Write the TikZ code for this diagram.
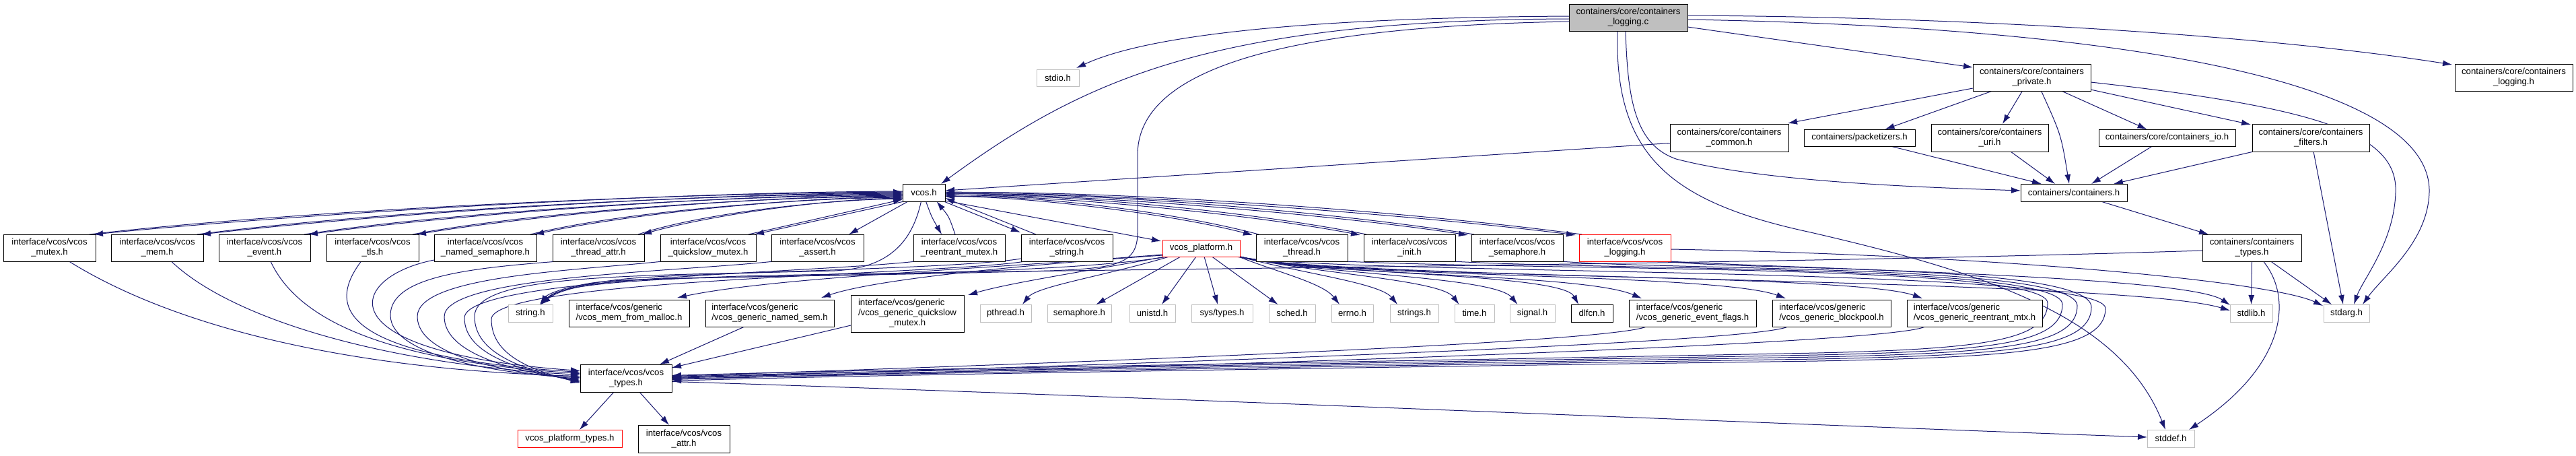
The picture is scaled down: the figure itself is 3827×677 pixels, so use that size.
\documentclass[tikz,border=0pt]{standalone}
\usepackage{fontspec}
\setmainfont{Liberation Sans}
\usetikzlibrary{arrows.meta,calc,backgrounds}
\definecolor{edgec}{HTML}{191970}
\definecolor{extc}{HTML}{BFBFBF}
\definecolor{redc}{HTML}{FF0000}
\begin{document}
\begin{tikzpicture}[x=1pt,y=-1pt,
 nd/.style={draw=black,fill=white,line width=0.9pt,inner sep=0pt,outer sep=0pt,align=center,font=\fontsize{13.2}{15}\selectfont},
 ext/.style={nd,draw=extc},
 rd/.style={nd,draw=redc},
 rt/.style={nd,fill=extc},
 gen/.style={nd,align=left},
 sz/.style 2 args={minimum width=#1pt,minimum height=#2pt},
 e/.style={draw=edgec,line width=1pt,-{Latex[length=14pt,width=9pt]}},
]
\useasboundingbox (0,0) rectangle (3827,677);
% ---------------- nodes
\node[rt,sz={176}{40}] (root) at (2419,26) {containers/core/containers\\\_logging.c};
\node[ext,sz={63}{25}] (stdio) at (1571.5,115.5) {stdio.h};
\node[nd,sz={175}{40}] (private) at (3018.5,115) {containers/core/containers\\\_private.h};
\node[nd,sz={175}{40}] (clog) at (3734.5,115) {containers/core/containers\\\_logging.h};
\node[nd,sz={176}{41}] (common) at (2569,204.5) {containers/core/containers\\\_common.h};
\node[nd,sz={165}{25}] (packet) at (2762.5,204.5) {containers/packetizers.h};
\node[nd,sz={174}{41}] (uri) at (2956,204.5) {containers/core/containers\\\_uri.h};
\node[nd,sz={203}{25}] (cio) at (3219.5,204.5) {containers/core/containers\_io.h};
\node[nd,sz={174}{41}] (filters) at (3433,204.5) {containers/core/containers\\\_filters.h};
\node[nd,sz={63}{26}] (vcos) at (1372.5,286) {vcos.h};
\node[nd,sz={158}{26}] (cont) at (3081,286) {containers/containers.h};
\node[nd,sz={137}{40}] (mutex) at (73.5,368) {interface/vcos/vcos\\\_mutex.h};
\node[nd,sz={137}{40}] (mem) at (233.5,368) {interface/vcos/vcos\\\_mem.h};
\node[nd,sz={136}{40}] (event) at (393,368) {interface/vcos/vcos\\\_event.h};
\node[nd,sz={137}{40}] (tls) at (553.5,368) {interface/vcos/vcos\\\_tls.h};
\node[nd,sz={152}{40}] (nsem) at (721,368) {interface/vcos/vcos\\\_named\_semaphore.h};
\node[nd,sz={136}{40}] (tattr) at (889,368) {interface/vcos/vcos\\\_thread\_attr.h};
\node[nd,sz={142}{40}] (qsm) at (1052,368) {interface/vcos/vcos\\\_quickslow\_mutex.h};
\node[nd,sz={137}{40}] (assert) at (1214.5,368) {interface/vcos/vcos\\\_assert.h};
\node[nd,sz={136}{40}] (rmutex) at (1425,368) {interface/vcos/vcos\\\_reentrant\_mutex.h};
\node[nd,sz={136}{40}] (vstring) at (1585,368) {interface/vcos/vcos\\\_string.h};
\node[rd,sz={115}{25}] (platform) at (1784.5,368.5) {vcos\_platform.h};
\node[nd,sz={136}{40}] (thread) at (1934,368) {interface/vcos/vcos\\\_thread.h};
\node[nd,sz={136}{40}] (init) at (2094,368) {interface/vcos/vcos\\\_init.h};
\node[nd,sz={136}{40}] (vsem) at (2254,368) {interface/vcos/vcos\\\_semaphore.h};
\node[rd,sz={136}{40}] (vlog) at (2414,368) {interface/vcos/vcos\\\_logging.h};
\node[nd,sz={147}{40}] (ctypes) at (3345.5,368) {containers/containers\\\_types.h};
\node[ext,sz={66}{26}] (string) at (788,465) {string.h};
\node[gen,sz={179}{40}] (memmalloc) at (934.5,465) {interface/vcos/generic\\/vcos\_mem\_from\_malloc.h};
\node[gen,sz={191}{40}] (gnsem) at (1143.5,465) {interface/vcos/generic\\/vcos\_generic\_named\_sem.h};
\node[gen,sz={168}{55}] (gqsm) at (1348,465.5) {interface/vcos/generic\\/vcos\_generic\_quickslow\\\hspace*{46pt}\_mutex.h};
\node[ext,sz={76}{26}] (pthread) at (1494,465) {pthread.h};
\node[ext,sz={95}{26}] (semh) at (1603.5,465) {semaphore.h};
\node[ext,sz={68}{26}] (unistd) at (1712,465) {unistd.h};
\node[ext,sz={91}{26}] (systypes) at (1815.5,465) {sys/types.h};
\node[ext,sz={69}{26}] (sched) at (1919.5,465) {sched.h};
\node[ext,sz={62}{26}] (errno) at (2009,465) {errno.h};
\node[ext,sz={72}{26}] (strings) at (2101,465) {strings.h};
\node[ext,sz={59}{26}] (time) at (2190.5,465) {time.h};
\node[ext,sz={67}{26}] (signal) at (2276.5,465) {signal.h};
\node[nd,sz={62}{26}] (dlfcn) at (2365,465) {dlfcn.h};
\node[gen,sz={189}{40}] (gevent) at (2514.5,465) {interface/vcos/generic\\/vcos\_generic\_event\_flags.h};
\node[gen,sz={176}{40}] (gblock) at (2721,465) {interface/vcos/generic\\/vcos\_generic\_blockpool.h};
\node[gen,sz={201}{40}] (grmtx) at (2933.5,465) {interface/vcos/generic\\/vcos\_generic\_reentrant\_mtx.h};
\node[ext,sz={63}{26}] (stdlib) at (3344.5,465) {stdlib.h};
\node[ext,sz={68}{26}] (stdarg) at (3486,465) {stdarg.h};
\node[nd,sz={136}{41}] (vtypes) at (930,561.5) {interface/vcos/vcos\\\_types.h};
\node[rd,sz={155}{26}] (ptypes) at (846.5,651) {vcos\_platform\_types.h};
\node[nd,sz={136}{41}] (attr) at (1016,651.5) {interface/vcos/vcos\\\_attr.h};
\node[ext,sz={70}{26}] (stddef) at (3225,651) {stddef.h};
% ---------------- edges
\begin{pgfonlayer}{background}
\fill[white] (0,0) rectangle (3827,677);
% root
\draw[e] ($(root.west)+(0,-2)$) .. controls (2000,26) and (1720,45) .. ($(stdio.north east)+(-4,-2)$);
\draw[e] ($(root.west)+(0,2)$) .. controls (1800,30) and (1610,118) .. ($(vcos.north east)+(-6,0)$);
\draw[e] ($(root.west)+(0,6)$) .. controls (1880,40) and (1690,110) .. (1690,230) -- (1690,345) .. controls (1690,392) and (1660,398) .. (1560,402) .. controls (1200,412) and (950,410) .. (880,420) .. controls (830,428) and (812,438) .. ($(string.north)+(14,0)$);
\draw[e] ($(root.east)+(0,14)$) -- ($(private.north west)+(0,5)$);
\draw[e] ($(root.east)+(0,-3)$) .. controls (2900,25) and (3350,50) .. ($(clog.north west)+(-4,1)$);
\draw[e] ($(root.east)+(0,3)$) .. controls (3150,40) and (3612,120) .. (3609,285) .. controls (3607,360) and (3540,410) .. ($(stdarg.north)+(24,0)$);
\draw[e] ($(root.south)+(-4,0)$) .. controls (2418,150) and (2430,215) .. (2490,236) .. controls (2620,270) and (2850,278) .. ($(cont.west)+(0,-3)$);
\draw[e] ($(root.south)+(-16,0)$) .. controls (2398,230) and (2480,300) .. (2690,345) .. controls (2950,405) and (3150,470) .. ($(stddef.north)+(-8,0)$);
% private
\draw[e] ($(private.south west)+(0,-4)$) -- ($(common.north east)+(-1,-1)$);
\draw[e] ($(private.south west)+(29,0)$) -- ($(packet.north)+(38,0)$);
\draw[e] ($(private.south)+(-14,0)$) -- ($(uri.north)+(19,0)$);
\draw[e] ($(private.south)+(14,0)$) .. controls (3062,200) .. ($(cont.north)+(-7,0)$);
\draw[e] ($(private.south)+(44,0)$) -- ($(cio.north)+(-30,0)$);
\draw[e] ($(private.south east)+(0,-2)$) -- ($(filters.north west)+(-2,1)$);
\draw[e] ($(private.east)+(0,7)$) .. controls (3450,160) and (3562,200) .. (3559,285) .. controls (3557,360) and (3510,415) .. ($(stdarg.north)+(11,0)$);
% containers
\draw[e] ($(common.west)+(0,8)$) -- ($(vcos.east)+(0,-3)$);
\draw[e] ($(packet.south)+(46,0)$) -- ($(cont.north)+(-48,0)$);
\draw[e] ($(uri.south)+(31,0)$) -- ($(cont.north)+(-28,0)$);
\draw[e] ($(cio.south)+(-22,0)$) -- ($(cont.north)+(26,0)$);
\draw[e] ($(filters.south west)+(2,0)$) -- ($(cont.north)+(59,0)$);
\draw[e] ($(filters.south)+(4,0)$) -- ($(stdarg.north)+(-5,0)$);
\draw[e] ($(cont.south)+(40,0)$) -- ($(ctypes.north west)+(9,0)$);
\draw[e] (ctypes.south) -- (stdlib.north);
\draw[e] ($(ctypes.south)+(28,0)$) -- ($(stdarg.north)+(-22,0)$);
\draw[e] ($(ctypes.south)+(17,0)$) .. controls (3405,440) and (3400,540) .. ($(stddef.north)+(27,0)$);
\draw[e] ($(ctypes.west)+(0,4)$) .. controls (2600,394) and (1500,400) .. (1100,410) .. controls (900,417) and (830,425) .. ($(string.north)+(15,0)$);
% vcos <-> left group
\draw[e] ($(vcos.west)+(0,-2)$) .. controls (981,285) and (442,318) .. ($(mutex.north east)+(-3,0)$);
\draw[e] ($(mutex.north east)+(-9,0)$) .. controls (433,313) and (981,287) .. ($(vcos.west)+(0,-1)$);
\draw[e] (vcos.west) .. controls (1029,287) and (562,318) .. ($(mem.north east)+(-3,0)$);
\draw[e] ($(mem.north east)+(-9,0)$) .. controls (553,314) and (1029,289) .. ($(vcos.west)+(0,1)$);
\draw[e] ($(vcos.west)+(0,2)$) .. controls (1077,289) and (681,318) .. ($(event.north east)+(-3,0)$);
\draw[e] ($(event.north east)+(-9,0)$) .. controls (672,314) and (1077,291) .. ($(vcos.west)+(0,3)$);
\draw[e] ($(vcos.west)+(0,4)$) .. controls (1125,291) and (802,318) .. ($(tls.north east)+(-3,0)$);
\draw[e] ($(tls.north east)+(-9,0)$) .. controls (793,314) and (1125,293) .. ($(vcos.west)+(0,5)$);
\draw[e] ($(vcos.west)+(0,6)$) .. controls (1178,293) and (933,318) .. ($(nsem.north east)+(-3,0)$);
\draw[e] ($(nsem.north east)+(-9,0)$) .. controls (924,314) and (1178,295) .. ($(vcos.west)+(0,7)$);
\draw[e] ($(vcos.west)+(0,8)$) .. controls (1226,295) and (1053,320) .. ($(tattr.north east)+(-3,0)$);
\draw[e] ($(tattr.north east)+(-9,0)$) .. controls (1044,316) and (1226,297) .. ($(vcos.west)+(0,9)$);
\draw[e] ($(vcos.south west)+(2,0)$) -- ($(qsm.north east)+(-2,0)$);
\draw[e] ($(qsm.north east)+(-11,0)$) -- ($(vcos.west)+(0,10)$);
\draw[e] ($(vcos.south west)+(8,0)$) -- ($(assert.north east)+(-22,0)$);
\draw[e] ($(vcos.south)+(3,0)$) .. controls (1384,322) .. ($(rmutex.north)+(-26,0)$);
\draw[e] ($(rmutex.north)+(-6,0)$) .. controls (1410,322) .. ($(vcos.south)+(19,0)$);
\draw[e] ($(vcos.south east)+(-2,0)$) -- ($(vstring.north west)+(-1,-3)$);
\draw[e] ($(vstring.north west)+(22,0)$) -- ($(vcos.east)+(0,8)$);
\draw[e] ($(vcos.south east)+(0,-1)$) -- ($(platform.north west)+(-2,2)$);
% vcos <-> right group
\draw[e] ($(vcos.east)+(0,5)$) .. controls (1543,292) and (1750,320) .. ($(thread.north west)+(-5,1)$);
\draw[e] ($(thread.north west)+(4,0)$) .. controls (1750,316) and (1543,289) .. ($(vcos.east)+(0,6)$);
\draw[e] ($(vcos.east)+(0,3)$) .. controls (1591,291) and (1870,320) .. ($(init.north west)+(-5,1)$);
\draw[e] ($(init.north west)+(4,0)$) .. controls (1870,316) and (1591,287) .. ($(vcos.east)+(0,4)$);
\draw[e] ($(vcos.east)+(0,1)$) .. controls (1639,289) and (1990,320) .. ($(vsem.north west)+(-5,1)$);
\draw[e] ($(vsem.north west)+(4,0)$) .. controls (1990,316) and (1639,285) .. ($(vcos.east)+(0,2)$);
\draw[e] ($(vcos.east)+(0,-1)$) .. controls (1687,287) and (2110,320) .. ($(vlog.north west)+(-5,1)$);
\draw[e] ($(vlog.north west)+(4,0)$) .. controls (2110,316) and (1687,283) .. (vcos.east);
% direct to vcos_types
\draw[e] ($(mutex.south)+(29,0)$) .. controls (250,480) and (500,548) .. ($(vtypes.west)+(0,-3)$);
\draw[e] ($(mem.south)+(21,0)$) .. controls (340,470) and (560,540) .. ($(vtypes.west)+(0,-5)$);
\draw[e] ($(event.south)+(9,0)$) .. controls (440,470) and (560,535) .. ($(vtypes.west)+(0,-7)$);
\draw[e] ($(tls.south)+(-17,0)$) .. controls (490,450) and (490,528) .. ($(vtypes.west)+(0,-9)$);
\draw[e] ($(nsem.south west)+(0,-2)$) .. controls (520,410) and (470,522) .. ($(vtypes.west)+(0,-11)$);
% left loops to vcos_types
\draw[e] ($(tattr.south west)+(8,0)$) .. controls (700,398) and (580,410) .. (580,468) .. controls (580,530) and (750,556) .. ($(vtypes.west)+(0,-1)$);
\draw[e] ($(qsm.south west)+(4,0)$) .. controls (850,402) and (620,410) .. (620,470) .. controls (620,530) and (760,554) .. ($(vtypes.west)+(0,1)$);
\draw[e] ($(assert.south west)+(4,0)$) .. controls (1000,404) and (660,410) .. (660,470) .. controls (660,527) and (770,552) .. ($(vtypes.west)+(0,3)$);
\draw[e] ($(rmutex.south west)+(4,0)$) .. controls (1200,406) and (690,412) .. (690,472) .. controls (690,527) and (775,550) .. ($(vtypes.west)+(0,5)$);
\draw[e] ($(vstring.south west)+(6,0)$) .. controls (1400,408) and (730,414) .. (730,474) .. controls (730,526) and (785,548) .. ($(vtypes.west)+(0,7)$);
\draw[e] ($(vcos.south)+(-4,0)$) .. controls (1355,360) and (1320,398) .. (1240,402) .. controls (950,410) and (705,405) .. (705,470) .. controls (705,526) and (780,549) .. ($(vtypes.west)+(0,6)$);
% right loops to vcos_types
\draw[e] ($(thread.south east)+(-4,0)$) .. controls (2300,402) and (3042,392) .. (3042,450) .. controls (3042,505) and (2950,518) .. (2700,524) .. controls (2000,538) and (1300,548) .. ($(vtypes.east)+(0,-4)$);
\draw[e] ($(init.south east)+(-4,0)$) .. controls (2400,402) and (3064,392) .. (3064,452) .. controls (3064,510) and (2960,521) .. (2700,527) .. controls (2000,540) and (1300,550) .. ($(vtypes.east)+(0,-2)$);
\draw[e] ($(vsem.south east)+(-4,0)$) .. controls (2500,402) and (3086,392) .. (3086,454) .. controls (3086,514) and (2970,524) .. (2700,530) .. controls (2000,542) and (1300,552) .. (vtypes.east);
\draw[e] ($(vlog.south east)+(-8,0)$) .. controls (2600,402) and (3107,392) .. (3107,456) .. controls (3107,518) and (2980,527) .. (2700,533) .. controls (2000,544) and (1300,554) .. ($(vtypes.east)+(0,2)$);
\draw[e] ($(platform.south east)+(-6,0)$) .. controls (2000,410) and (3128,394) .. (3128,458) .. controls (3128,522) and (2990,530) .. (2700,536) .. controls (2000,546) and (1300,556) .. ($(vtypes.east)+(0,4)$);
% generic to vcos_types
\draw[e] ($(gevent.south west)+(26,0)$) .. controls (2380,512) and (1400,545) .. ($(vtypes.east)+(0,-3)$);
\draw[e] ($(gblock.south west)+(23,0)$) .. controls (2600,512) and (1500,547) .. ($(vtypes.east)+(0,-1)$);
\draw[e] ($(grmtx.south west)+(27,0)$) .. controls (2800,514) and (1600,549) .. ($(vtypes.east)+(0,1)$);
\draw[e] ($(gnsem.south west)+(58,0)$) -- ($(vtypes.north east)+(-18,0)$);
\draw[e] ($(gqsm.south west)+(0,-10)$) -- ($(vtypes.north east)+(0,5)$);
% vcos_types out
\draw[e] ($(vtypes.south)+(-18,0)$) -- ($(ptypes.north)+(14.5,0)$);
\draw[e] ($(vtypes.south)+(20,0)$) -- ($(attr.north)+(-22,0)$);
\draw[e] ($(vtypes.east)+(0,5)$) .. controls (1600,585) and (2600,628) .. ($(stddef.west)+(0,-2)$);
% platform out
\draw[e] ($(platform.south west)+(10,0)$) .. controls (1640,410) and (1540,425) .. ($(pthread.north)+(25,0)$);
\draw[e] ($(platform.south west)+(27,0)$) -- ($(semh.north)+(25,0)$);
\draw[e] ($(platform.south)+(-7.5,0)$) -- ($(unistd.north)+(14,0)$);
\draw[e] ($(platform.south)+(4.5,0)$) -- ($(systypes.north)+(-6.5,0)$);
\draw[e] ($(platform.south)+(16,0)$) -- ($(sched.north)+(-21,0)$);
\draw[e] ($(platform.south east)+(-2,0)$) .. controls (1900,405) and (1965,420) .. ($(errno.north)+(-19,0)$);
\draw[e] ($(platform.south east)+(-1,0)$) .. controls (1930,405) and (2050,420) .. ($(strings.north)+(-25,0)$);
\draw[e] (platform.south east) .. controls (1950,406) and (2140,415) .. ($(time.north)+(-23,0)$);
\draw[e] (platform.south east) .. controls (1950,407) and (2220,410) .. ($(signal.north)+(-22,0)$);
\draw[e] (platform.south east) .. controls (1950,408) and (2320,405) .. ($(dlfcn.north)+(-20,0)$);
\draw[e] (platform.south east) .. controls (1950,410) and (2350,405) .. ($(gevent.north west)+(19,-2)$);
\draw[e] (platform.south east) .. controls (1960,412) and (2550,405) .. ($(gblock.north west)+(20,-2)$);
\draw[e] (platform.south east) .. controls (1970,414) and (2750,405) .. ($(grmtx.north west)+(23,-2)$);
\draw[e] (platform.south east) .. controls (1980,416) and (3150,412) .. ($(stdlib.west)+(0,-4)$);
\draw[e] ($(platform.south west)+(0,-3)$) .. controls (1450,400) and (1150,412) .. ($(memmalloc.north east)+(-18,-3)$);
\draw[e] ($(platform.south west)+(0,-2)$) .. controls (1500,395) and (1300,415) .. ($(gnsem.north east)+(-19,-3)$);
\draw[e] ($(platform.south west)+(4,0)$) .. controls (1600,405) and (1500,420) .. ($(gqsm.north east)+(6,0)$);
\draw[e] ($(platform.south west)+(8,0)$) .. controls (1560,410) and (1100,408) .. (940,416) .. controls (865,421) and (828,432) .. ($(string.north)+(16,0)$);
% vcos_string and vcos_logging
\draw[e] ($(vstring.south west)+(0,-4)$) .. controls (1420,400) and (1000,405) .. (920,415) .. controls (860,422) and (825,432) .. ($(string.north)+(15,0)$);
\draw[e] ($(vlog.east)+(0,2)$) .. controls (3000,380) and (3380,420) .. ($(stdarg.north west)+(-1,2)$);
\draw[e] ($(vlog.south east)+(-3,0)$) .. controls (2700,400) and (3250,410) .. ($(stdlib.north west)+(0,1)$);
\end{pgfonlayer}
\end{tikzpicture}
\end{document}
